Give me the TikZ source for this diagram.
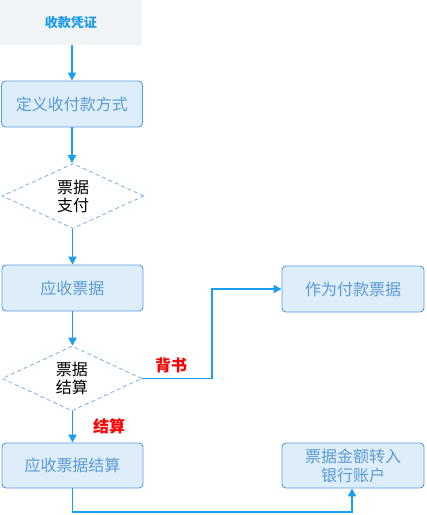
\documentclass[tikz,border=0pt]{standalone}
\usepackage{fontspec}
\setmainfont{Noto Sans CJK SC}
\usetikzlibrary{shapes.geometric,arrows.meta}
\definecolor{arrowc}{HTML}{1A9FF0}
\definecolor{boxfill}{HTML}{DEEDFA}
\definecolor{boxline}{HTML}{5A9BE0}
\definecolor{boxtext}{HTML}{5B9BD5}
\definecolor{topfill}{HTML}{F0F4F7}
\definecolor{toptext}{HTML}{1A9BE8}
\definecolor{dline}{HTML}{7AAEE8}
\tikzset{
  topbox/.style={rectangle,fill=topfill,minimum width=142pt,minimum height=45pt,inner sep=0pt,
    text=toptext,font=\fontsize{13pt}{15pt}\selectfont\bfseries},
  procbox/.style={rectangle,rounded corners=4pt,draw=boxline,line width=0.9pt,fill=boxfill,
    minimum width=141pt,minimum height=46pt,inner sep=0pt,text=boxtext,align=center,
    font=\fontsize{16pt}{19pt}\selectfont},
  decision/.style={diamond,draw=dline,dashed,dash pattern=on 4pt off 3pt,line width=0.8pt,
    minimum width=142pt,minimum height=65pt,inner sep=0pt,align=center,text=black,
    font=\fontsize{16pt}{18pt}\selectfont},
  flow/.style={draw=arrowc,line width=1.8pt,-{Triangle[length=8pt,width=8pt]}},
  redlabel/.style={text=red,font=\fontsize{16pt}{18pt}\selectfont\bfseries,inner sep=0pt}
}
\begin{document}
\begin{tikzpicture}[x=1pt,y=-1pt]
\useasboundingbox (0,0) rectangle (427,515);
\node[topbox] (b0) at (71,22.5) {收款凭证};
\node[procbox] (b1) at (72,104) {定义收付款方式};
\node[decision] (d1) at (73,196) {票据\\支付};
\node[procbox] (b2) at (72.5,288) {应收票据};
\node[decision,minimum height=63pt,minimum width=140pt] (d2) at (72,378.5) {票据\\结算};
\node[procbox,minimum height=45pt] (b3) at (72.5,465.5) {应收票据结算};
\node[procbox,minimum width=142pt] (r1) at (353,289) {作为付款票据};
\node[procbox,minimum width=142pt,minimum height=45pt] (r2) at (353,465.5) {票据金额转入\\银行账户};
\coordinate (t1) at (212,378.5);
\coordinate (t2) at (212,289);
\coordinate (u1) at (72.5,512);
\coordinate (u2) at (352,512);
\draw[flow] (b0.south -| b1.north) -- (b1.north);
\draw[flow] (b1.south) -- (b1.south |- d1.north);
\draw[flow] (d1.south -| b2.north) -- (b2.north);
\draw[flow] (b2.south) -- (b2.south |- d2.north);
\draw[flow] (d2.south -| b3.north) -- (b3.north);
\draw[flow] (d2.east) -- (t1) -- (t2) -- (r1.west);
\draw[flow] (b3.south) -- (u1) -- (u2) -- (u2 |- r2.south);
\node[redlabel] (l1) at (171,365) {背书};
\node[redlabel] (l2) at (109,426) {结算};
\end{tikzpicture}
\end{document}
